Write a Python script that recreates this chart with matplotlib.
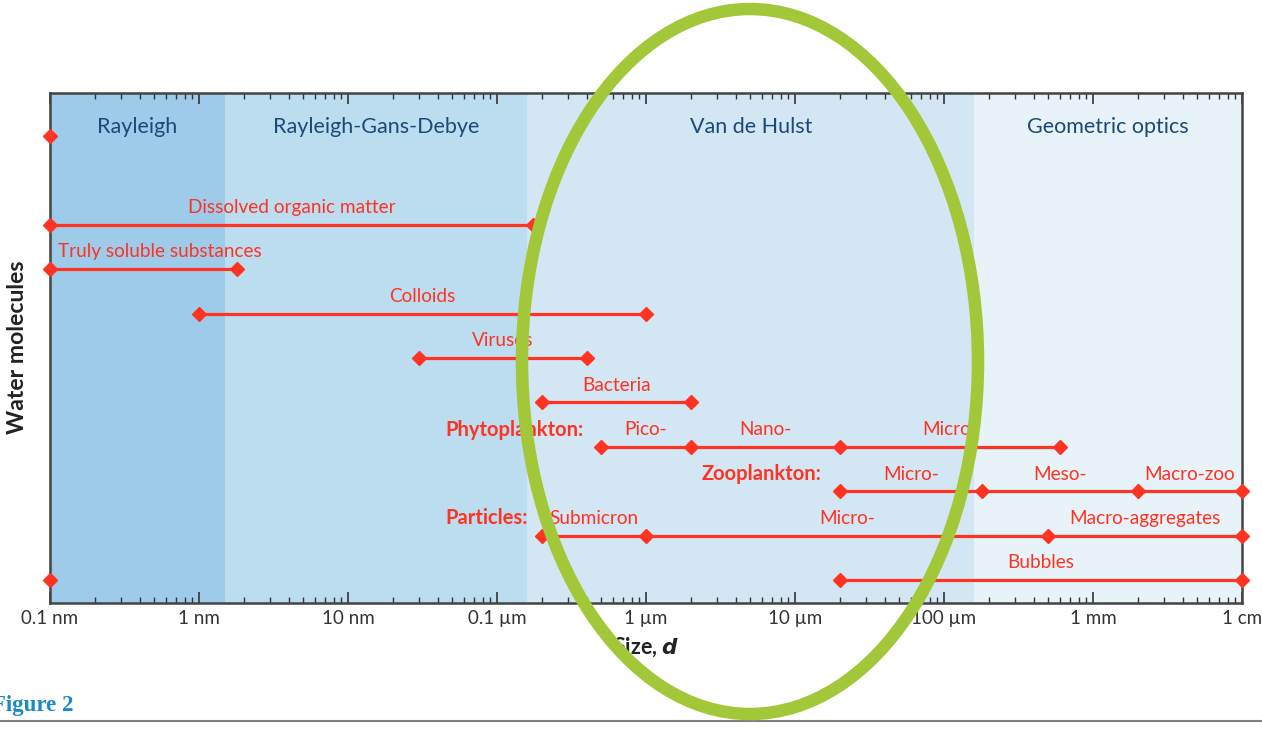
import matplotlib
matplotlib.use("Agg")
import matplotlib.pyplot as plt
from matplotlib.patches import Ellipse
from matplotlib.lines import Line2D
import numpy as np

plt.rcParams['font.family'] = ['Lato', 'DejaVu Sans']

# ---- data (sizes in nm) ----
region_names = ["Rayleigh", "Rayleigh-Gans-Debye", "Van de Hulst", "Geometric optics"]
region_edges = [0.1, 1.5, 160, 160000, 1e7]
region_colors = ["#9dcbe9", "#bcdcf0", "#d2e6f4", "#e8f2f9"]

tick_values = [0.1, 1, 10, 100, 1000, 1e4, 1e5, 1e6, 1e7]
tick_labels = ["0.1 nm", "1 nm", "10 nm", "0.1 µm", "1 µm", "10 µm", "100 µm", "1 mm", "1 cm"]

# rows: (row index, breakpoints, segment labels)
dom_row, dom_pts, dom_labels = 2, [0.1, 175], ["Dissolved organic matter"]
sol_row, sol_pts, sol_labels = 3, [0.1, 1.8], ["Truly soluble substances"]
col_row, col_pts, col_labels = 4, [1, 1000], ["Colloids"]
vir_row, vir_pts, vir_labels = 5, [30, 400], ["Viruses"]
bac_row, bac_pts, bac_labels = 6, [200, 2000], ["Bacteria"]
phy_row, phy_pts, phy_labels = 7, [500, 2000, 20000, 600000], ["Pico-", "Nano-", "Micro-"]
zoo_row, zoo_pts, zoo_labels = 8, [20000, 180000, 2e6, 1e7], ["Micro-", "Meso-", "Macro-zoo"]
par_row, par_pts, par_labels = 9, [200, 1000, 500000, 1e7], ["Submicron", "Micro-", "Macro-aggregates"]
bub_row, bub_pts, bub_labels = 10, [20000, 1e7], ["Bubbles"]

water_x = [0.1, 0.1]
water_rows = [0, 10]

group_names = ["Phytoplankton:", "Zooplankton:", "Particles:"]
group_x = [384, 15000, 160]
group_rows = [7, 8, 9]

RED = "#ff3322"
NAVY = "#1b4a78"

fig = plt.figure(figsize=(12.62, 7.32), dpi=100)
ax = fig.add_axes([50/1262, 1-603/732, 1192/1262, 510/732])
ax.set_xscale('log')
ax.set_xlim(0.1, 1e7)
ax.set_ylim(10.51, -0.96)

for i, name in enumerate(region_names):
    a, b = region_edges[i], region_edges[i+1]
    ax.axvspan(a, b, color=region_colors[i], lw=0, zorder=0)
    ax.text(np.sqrt(a*b), -0.2, name, ha='center', va='center',
            color=NAVY, fontsize=15.5, zorder=3)

def draw_row(row, pts, labels, text_left=None):
    ax.plot(pts, [row]*len(pts), color=RED, lw=2.3, marker='D', ms=7,
            mfc=RED, mec=RED, zorder=4, clip_on=False)
    for j, lab in enumerate(labels):
        xm = np.sqrt(pts[j]*pts[j+1])
        ha = 'center'
        if text_left is not None:
            xm, ha = text_left, 'left'
        ax.annotate(lab, (xm, row), xytext=(0, 12.5), textcoords='offset points',
                    ha=ha, va='center', color=RED, fontsize=13.7, zorder=4)

draw_row(dom_row, dom_pts, dom_labels)
draw_row(sol_row, sol_pts, sol_labels, text_left=0.113)
draw_row(col_row, col_pts, col_labels)
draw_row(vir_row, vir_pts, vir_labels)
draw_row(bac_row, bac_pts, bac_labels)
draw_row(phy_row, phy_pts, phy_labels)
draw_row(zoo_row, zoo_pts, zoo_labels)
draw_row(par_row, par_pts, par_labels)
draw_row(bub_row, bub_pts, bub_labels)

ax.plot(water_x, water_rows, ls='none', marker='D', ms=7, color=RED,
        zorder=5, clip_on=False)

for name, gx, gr in zip(group_names, group_x, group_rows):
    ax.annotate(name, (gx, gr), xytext=(0, 12.5), textcoords='offset points',
                ha='right', va='center', color=RED, fontsize=14.5,
                fontweight='bold', zorder=4)

ax.set_xticks(tick_values)
ax.set_xticklabels(tick_labels)
ax.xaxis.set_minor_locator(matplotlib.ticker.LogLocator(base=10, subs=np.arange(2, 10)))
ax.xaxis.set_minor_formatter(matplotlib.ticker.NullFormatter())
ax.tick_params(axis='x', which='major', direction='in', length=8, width=1.2,
               top=True, color='#333333', labelsize=13.5, labelcolor='#333333', pad=5)
ax.tick_params(axis='x', which='minor', direction='in', length=4.5, width=1,
               top=True, color='#333333')
ax.set_yticks([])
for s in ax.spines.values():
    s.set_color('#444444')
    s.set_linewidth(1.8)

fig.text(646/1262, 1-647/732, r"Size, $\boldsymbol{d}$", ha='center', va='center',
         fontsize=15.5, fontweight='bold', color='#222222')
fig.text(18/1262, 1-347/732, "Water molecules", rotation=90, ha='center',
         va='center', fontsize=16.6, fontweight='bold', color='#222222')

# Figure caption
fig.text(73/1262, 1-706/732, "Figure 2", ha='right', va='center', fontsize=16.5,
         fontweight='bold', color='#1a8ac8', family=['Liberation Serif'])
fig.add_artist(Line2D([0, 1], [1-721/732, 1-721/732], color='#808080', lw=1.5,
                      transform=fig.transFigure))

# green highlight ellipse
ell = Ellipse((750/1262, 1-361.5/732), 456/1262, 705/732, fill=False,
              edgecolor='#a2c83a', lw=9, transform=fig.transFigure, zorder=10)
fig.add_artist(ell)

fig.savefig("out.png", dpi=100)
